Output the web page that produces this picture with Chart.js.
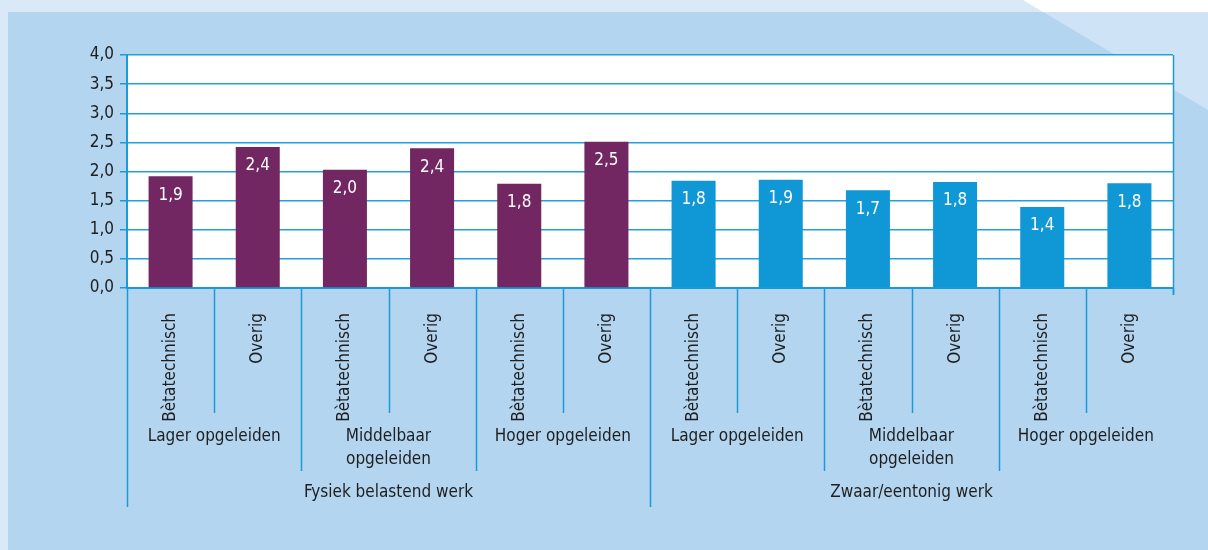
<!DOCTYPE html>
<html>
<head>
<meta charset="utf-8">
<script src="https://cdn.jsdelivr.net/npm/chart.js@4"></script>
<style>
  html, body { margin: 0; padding: 0; }
  body { width: 1208px; height: 550px; background: #d9e9f8; position: relative; overflow: hidden; }
  #panel { position: absolute; left: 8px; top: 12px; right: 0; bottom: 0; background: #b3d5f0; }
  #corner { position: absolute; left: 0; top: 0; width: 1208px; height: 550px; background: #cfe3f6;
            clip-path: polygon(1023px 0, 1208px 0, 1208px 110px); }
  #cornerTop { position: absolute; left: 0; top: 0; width: 1208px; height: 12px; background: #ffffff;
            clip-path: polygon(1023px 0, 1208px 0, 1208px 12px, 1043px 12px); }
  #myChart { position: absolute; left: 0; top: 0; }
</style>
</head>
<body>
<div id="panel"></div>
<div id="corner"></div>
<div id="cornerTop"></div>
<canvas id="myChart" width="1208" height="550"></canvas>
<script>
// data
var categories = ['Bètatechnisch', 'Overig', 'Bètatechnisch', 'Overig', 'Bètatechnisch', 'Overig',
                  'Bètatechnisch', 'Overig', 'Bètatechnisch', 'Overig', 'Bètatechnisch', 'Overig'];
var educationLevels = ['Lager opgeleiden', ['Middelbaar', 'opgeleiden'], 'Hoger opgeleiden'];
var workTypes = ['Fysiek belastend werk', 'Zwaar/eentonig werk'];
var values = [1.92, 2.42, 2.03, 2.40, 1.79, 2.51, 1.84, 1.86, 1.68, 1.82, 1.39, 1.80];
var yTicks = [0, 0.5, 1, 1.5, 2, 2.5, 3, 3.5, 4];
var workColors = ['#722762', '#1097d5'];

var FONT = '"DejaVu Sans Condensed", "Liberation Sans Narrow", sans-serif';
var lineBlue = '#1a9ad6';

function fmt(v) { return v.toFixed(1).replace('.', ','); }

var perWork = categories.length / workTypes.length;
var perLevel = perWork / educationLevels.length;
var barColors = values.map(function (v, i) { return workColors[Math.floor(i / perWork)]; });

// white plot background
var plotBg = {
  id: 'plotBg',
  beforeDraw: function (chart) {
    var a = chart.chartArea;
    chart.ctx.save();
    chart.ctx.fillStyle = '#ffffff';
    chart.ctx.fillRect(a.left, a.top, a.right - a.left, a.bottom - a.top);
    chart.ctx.restore();
  }
};

// value labels, dividers and group labels under the axis
var extras = {
  id: 'extras',
  afterDraw: function (chart) {
    var ctx = chart.ctx;
    var area = chart.chartArea;
    var x = chart.scales.x;
    var n = categories.length;
    var step = (area.right - area.left) / n;
    var meta = chart.getDatasetMeta(0);

    ctx.save();
    // value labels inside the bars
    ctx.font = '17px ' + FONT;
    ctx.fillStyle = '#ffffff';
    ctx.textAlign = 'center';
    ctx.textBaseline = 'middle';
    meta.data.forEach(function (bar, i) {
      ctx.fillText(fmt(values[i]), bar.x, bar.y + 19);
    });

    // divider lines
    ctx.strokeStyle = lineBlue;
    ctx.lineWidth = 1.5;
    for (var k = 0; k <= n; k++) {
      var px = Math.round(area.left + k * step) + 0.5;
      var end;
      if (k === n) end = area.bottom + 7;
      else if (k % perWork === 0) end = 507;
      else if (k % perLevel === 0) end = 471;
      else end = 413;
      ctx.beginPath();
      ctx.moveTo(px, area.bottom);
      ctx.lineTo(px, end);
      ctx.stroke();
    }
    // right border of the plot
    ctx.beginPath();
    ctx.moveTo(Math.round(area.right) + 0.5, area.top);
    ctx.lineTo(Math.round(area.right) + 0.5, area.bottom + 7);
    ctx.stroke();

    // group labels
    ctx.font = '17px ' + FONT;
    ctx.fillStyle = '#1e1e1e';
    for (var w = 0; w < workTypes.length; w++) {
      for (var l = 0; l < educationLevels.length; l++) {
        var first = w * perWork + l * perLevel;
        var cx = (x.getPixelForValue(first) + x.getPixelForValue(first + perLevel - 1)) / 2;
        var lab = educationLevels[l];
        var lines = Array.isArray(lab) ? lab : [lab];
        lines.forEach(function (t, j) { ctx.fillText(t, cx, 437 + j * 23); });
      }
      var a = x.getPixelForValue(w * perWork);
      var b = x.getPixelForValue(w * perWork + perWork - 1);
      ctx.fillText(workTypes[w], (a + b) / 2, 493);
    }
    ctx.restore();
  }
};

var ctx = document.getElementById('myChart').getContext('2d');
var myChart = new Chart(ctx, {
  type: 'bar',
  data: {
    labels: categories,
    datasets: [{
      data: values,
      backgroundColor: barColors,
      barPercentage: 0.505,
      categoryPercentage: 1
    }]
  },
  options: {
    responsive: false,
    animation: false,
    layout: { padding: { top: 55, right: 35, bottom: 0, left: 0 } },
    plugins: { legend: { display: false }, tooltip: { enabled: false } },
    scales: {
      y: {
        min: 0,
        max: 4,
        afterFit: function (s) { s.width = 127; },
        afterBuildTicks: function (s) { s.ticks = yTicks.map(function (v) { return { value: v }; }); },
        ticks: {
          padding: 6,
          color: '#1e1e1e',
          font: { family: FONT, size: 17 },
          callback: function (v) { return fmt(v); }
        },
        grid: { color: '#22a0dc', lineWidth: 1.5, tickLength: 7, tickColor: lineBlue },
        border: { display: true, color: lineBlue, width: 2 }
      },
      x: {
        afterFit: function (s) { s.height = 262; },
        grid: { display: false },
        border: { display: true, color: lineBlue, width: 2 },
        ticks: {
          minRotation: 90,
          maxRotation: 90,
          padding: 17,
          autoSkip: false,
          color: '#1e1e1e',
          font: { family: FONT, size: 17 }
        }
      }
    }
  },
  plugins: [plotBg, extras]
});
</script>
</body>
</html>
